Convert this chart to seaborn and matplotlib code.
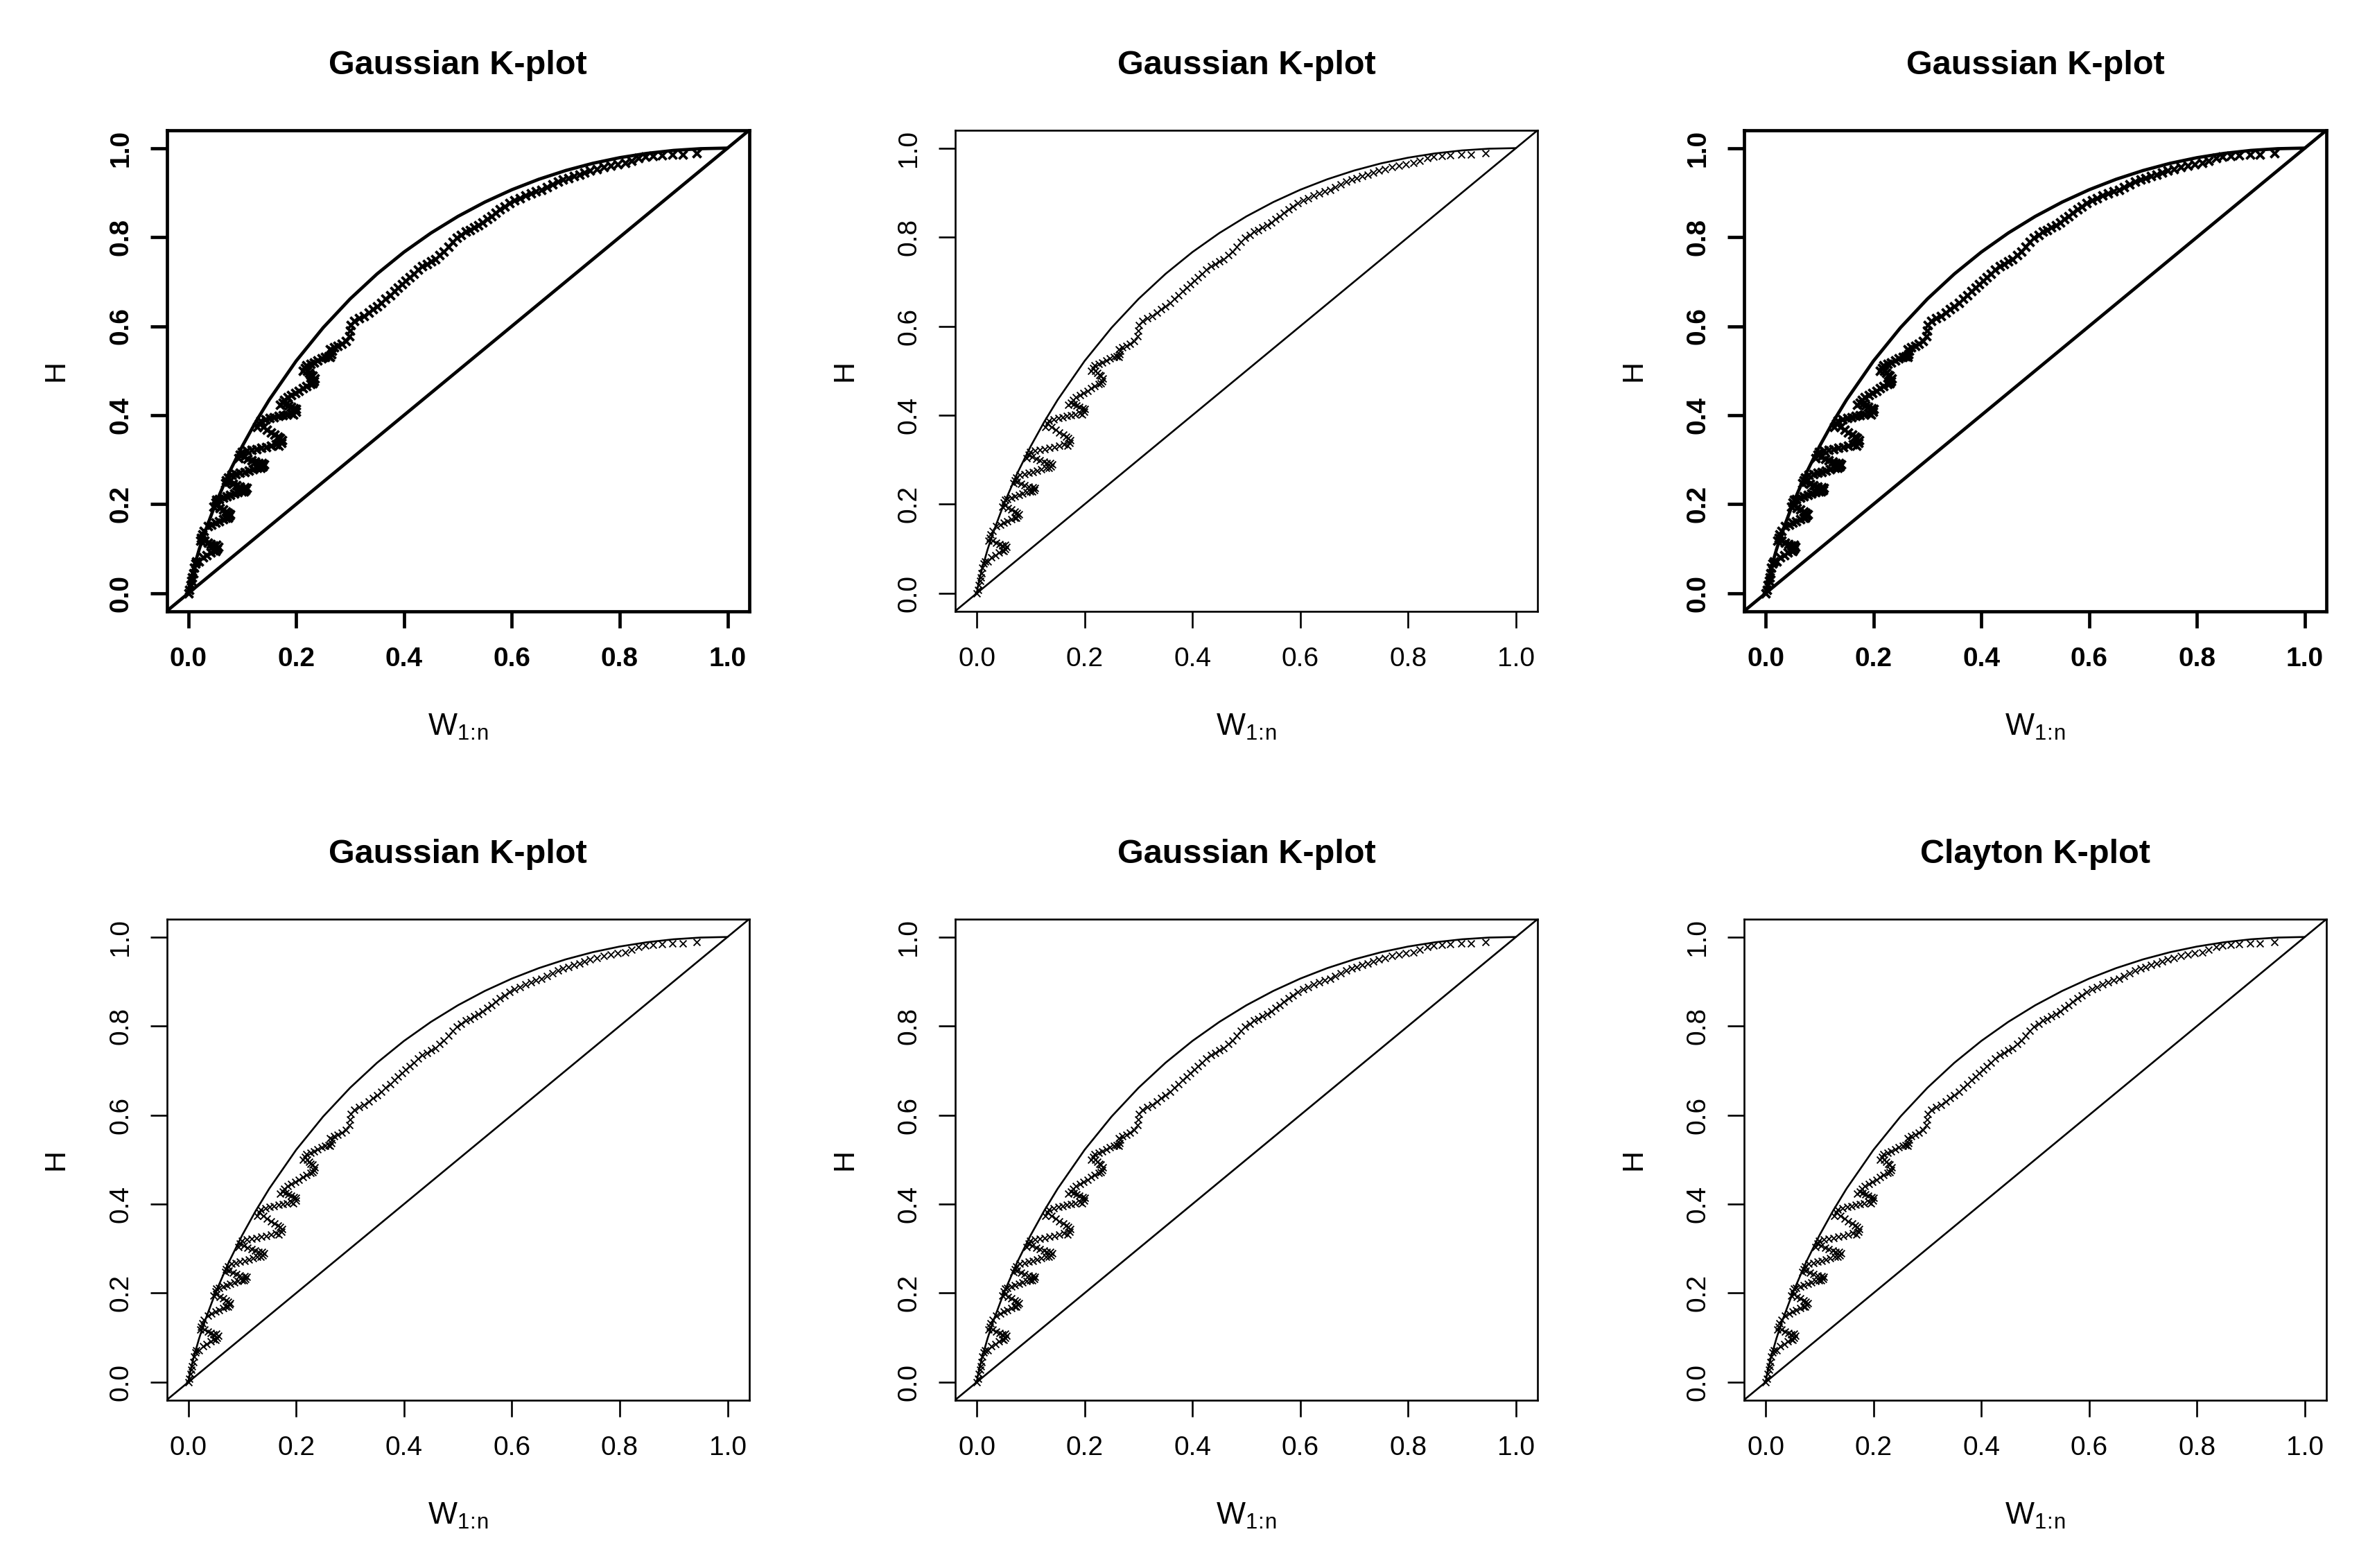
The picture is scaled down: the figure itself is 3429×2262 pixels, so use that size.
import matplotlib
matplotlib.use("Agg")
import matplotlib.pyplot as plt
import seaborn as sns

# ---------------- data ----------------
titles = ["Gaussian K-plot", "Gaussian K-plot", "Gaussian K-plot",
          "Gaussian K-plot", "Gaussian K-plot", "Clayton K-plot"]
bold_panels = [True, False, True, False, False, False]

# reference curve (perfect positive dependence)
curve_w = [0.0, 0.002, 0.005, 0.01, 0.02, 0.03, 0.05, 0.075, 0.1, 0.125, 0.15,
           0.2, 0.25, 0.3, 0.35, 0.4, 0.45, 0.5, 0.55, 0.6, 0.65, 0.7, 0.75,
           0.8, 0.85, 0.9, 0.95, 1.0]
curve_h = [0.0, 0.0144, 0.0315, 0.0561, 0.0982, 0.1352, 0.1998, 0.2693, 0.3303,
           0.3849, 0.4346, 0.5219, 0.5966, 0.6612, 0.7174, 0.7665, 0.8093,
           0.8466, 0.8788, 0.9065, 0.93, 0.9497, 0.9658, 0.9785, 0.9881,
           0.9948, 0.9987, 1.0]

# K-plot points: lower "teeth" part
w_low = [0.000, 0.002, 0.004, 0.006, 0.007, 0.009,
         0.010, 0.013, 0.015,
         0.020, 0.027, 0.034, 0.041, 0.047,
         0.050, 0.053, 0.055, 0.052,
         0.047, 0.042, 0.036, 0.030,
         0.022, 0.024, 0.026, 0.029,
         0.036, 0.043, 0.050, 0.057, 0.064, 0.070,
         0.073, 0.076, 0.078, 0.074,
         0.070, 0.064, 0.058, 0.052,
         0.047, 0.050, 0.052,
         0.057, 0.064, 0.071, 0.078, 0.085, 0.092, 0.099,
         0.103, 0.106, 0.108, 0.104,
         0.096, 0.089, 0.082, 0.075,
         0.068, 0.070, 0.073,
         0.080, 0.088, 0.096, 0.104, 0.112, 0.120, 0.128,
         0.134, 0.138, 0.140, 0.136,
         0.130, 0.124, 0.117, 0.110, 0.103,
         0.093, 0.096, 0.099,
         0.108, 0.117, 0.126, 0.135, 0.144, 0.153, 0.162,
         0.168, 0.172, 0.174, 0.170,
         0.166, 0.160, 0.153, 0.146, 0.139,
         0.127, 0.131, 0.134,
         0.143, 0.151, 0.159, 0.167, 0.175, 0.183, 0.191,
         0.195, 0.199, 0.200, 0.196,
         0.190, 0.185, 0.180,
         0.170, 0.175, 0.178,
         0.184, 0.191, 0.198, 0.205, 0.212, 0.219, 0.226,
         0.230, 0.233, 0.234, 0.230,
         0.227, 0.224, 0.220,
         0.212, 0.216, 0.219,
         0.226, 0.233, 0.240, 0.247, 0.254, 0.260,
         0.263, 0.265, 0.266, 0.263]
h_low = [0.000, 0.008, 0.018, 0.027, 0.036, 0.045,
         0.058, 0.066, 0.072,
         0.072, 0.080, 0.086, 0.092, 0.096,
         0.095, 0.100, 0.104, 0.108,
         0.107, 0.110, 0.113, 0.118,
         0.118, 0.125, 0.132, 0.140,
         0.150, 0.154, 0.158, 0.162, 0.166, 0.170,
         0.170, 0.174, 0.178, 0.180,
         0.184, 0.188, 0.192, 0.197,
         0.195, 0.203, 0.210,
         0.212, 0.215, 0.218, 0.221, 0.224, 0.227, 0.229,
         0.228, 0.232, 0.236, 0.238,
         0.240, 0.243, 0.246, 0.250,
         0.248, 0.254, 0.260,
         0.266, 0.268, 0.270, 0.273, 0.275, 0.278, 0.281,
         0.281, 0.285, 0.289, 0.292,
         0.293, 0.295, 0.298, 0.302, 0.306,
         0.304, 0.311, 0.318,
         0.320, 0.322, 0.324, 0.326, 0.329, 0.331, 0.334,
         0.332, 0.338, 0.344, 0.348,
         0.352, 0.356, 0.361, 0.367, 0.374,
         0.374, 0.381, 0.388,
         0.390, 0.393, 0.395, 0.398, 0.400, 0.402, 0.405,
         0.402, 0.408, 0.414, 0.416,
         0.418, 0.421, 0.425,
         0.424, 0.428, 0.434,
         0.440, 0.445, 0.450, 0.455, 0.460, 0.465, 0.470,
         0.472, 0.477, 0.483, 0.488,
         0.490, 0.495, 0.500,
         0.500, 0.506, 0.512,
         0.515, 0.519, 0.523, 0.527, 0.530, 0.533,
         0.531, 0.537, 0.544, 0.548]

# K-plot points: upper smooth part
w_up = [0.270, 0.277, 0.284, 0.292, 0.298, 0.300, 0.301, 0.307, 0.316, 0.325,
        0.334, 0.342, 0.350, 0.358, 0.366, 0.374, 0.382, 0.389, 0.396, 0.403,
        0.410, 0.418, 0.426, 0.434, 0.442, 0.450, 0.458, 0.466, 0.474, 0.482,
        0.490, 0.498, 0.506, 0.514, 0.522, 0.530, 0.538, 0.546, 0.554, 0.562,
        0.570, 0.578, 0.586, 0.595, 0.605, 0.615, 0.625, 0.635, 0.645, 0.655,
        0.665, 0.675, 0.685, 0.695, 0.705, 0.715, 0.725, 0.735, 0.745, 0.757,
        0.770, 0.783, 0.796, 0.810, 0.822, 0.835, 0.847, 0.862, 0.878, 0.898,
        0.917, 0.943]
h_up = [0.552, 0.556, 0.560, 0.566, 0.578, 0.590, 0.602, 0.612, 0.618, 0.623,
        0.630, 0.638, 0.645, 0.652, 0.662, 0.670, 0.679, 0.687, 0.694, 0.702,
        0.710, 0.718, 0.727, 0.735, 0.740, 0.745, 0.750, 0.759, 0.768, 0.778,
        0.790, 0.798, 0.805, 0.812, 0.816, 0.822, 0.827, 0.833, 0.840, 0.847,
        0.855, 0.863, 0.869, 0.876, 0.882, 0.888, 0.894, 0.899, 0.903, 0.906,
        0.912, 0.918, 0.924, 0.929, 0.933, 0.937, 0.941, 0.945, 0.949, 0.953,
        0.957, 0.960, 0.963, 0.966, 0.972, 0.977, 0.981, 0.982, 0.984, 0.985,
        0.986, 0.988]

tick_vals = [0.0, 0.2, 0.4, 0.6, 0.8, 1.0]
tick_labels = ["0.0", "0.2", "0.4", "0.6", "0.8", "1.0"]
x_label = r"$\mathregular{W_{1\!:\!n}}$"
y_label = "H"

# ---------------- style ----------------
sns.set_theme(style="ticks")
plt.rcParams["font.family"] = ["Liberation Sans", "DejaVu Sans"]
plt.rcParams["mathtext.fontset"] = "custom"
plt.rcParams["mathtext.rm"] = "Liberation Sans"
plt.rcParams["text.color"] = "black"
plt.rcParams["axes.labelcolor"] = "black"
plt.rcParams["axes.titlecolor"] = "black"

fig = plt.figure(figsize=(34.3, 22.62), dpi=100)
lefts = [0.07015, 0.40175, 0.73353]
bottoms = [0.6103, 0.1072]
aw, ah = 0.2449, 0.3066

w_all = w_low + w_up
h_all = h_low + h_up

for i in range(6):
    r, c = divmod(i, 3)
    ax = fig.add_axes([lefts[c], bottoms[r], aw, ah])
    bold = bold_panels[i]
    lw = 3.4 if bold else 1.9
    mlw = 2.8 if bold else 1.35
    ms = 75 if bold else 50
    weight = "bold" if bold else "normal"

    sns.lineplot(x=curve_w, y=curve_h, ax=ax, color="black", linewidth=lw,
                 sort=False, estimator=None)
    ax.axline((0, 0), (1, 1), color="black", linewidth=lw)
    sns.scatterplot(x=w_all, y=h_all, ax=ax, marker="x", color="black",
                    s=ms, linewidth=mlw, zorder=3)

    ax.set_xlim(-0.04, 1.04)
    ax.set_ylim(-0.04, 1.04)
    ax.set_xticks(tick_vals)
    ax.set_xticklabels(tick_labels, fontsize=28, fontweight=weight)
    ax.set_yticks(tick_vals)
    ax.set_yticklabels(tick_labels, fontsize=28, fontweight=weight,
                       rotation=90, va="center")
    ax.tick_params(axis="both", direction="out", length=17, width=lw,
                   color="black", labelcolor="black")
    ax.tick_params(axis="x", pad=20)
    ax.tick_params(axis="y", pad=18)
    for sp in ax.spines.values():
        sp.set_visible(True)
        sp.set_color("black")
        sp.set_linewidth(lw)

    ax.set_xlabel(x_label, fontsize=32, va="center", color="black")
    ax.xaxis.set_label_coords(0.5, -168 / 695)
    ax.set_ylabel(y_label, fontsize=31, va="center", rotation=90,
                  color="black")
    ax.yaxis.set_label_coords(-160 / 840, 0.5)
    ax.set_title(titles[i], fontsize=35, fontweight="bold", y=1 + 94 / 695,
                 va="center", pad=0, color="black")

fig.savefig("out.png", dpi=100, facecolor="white")
